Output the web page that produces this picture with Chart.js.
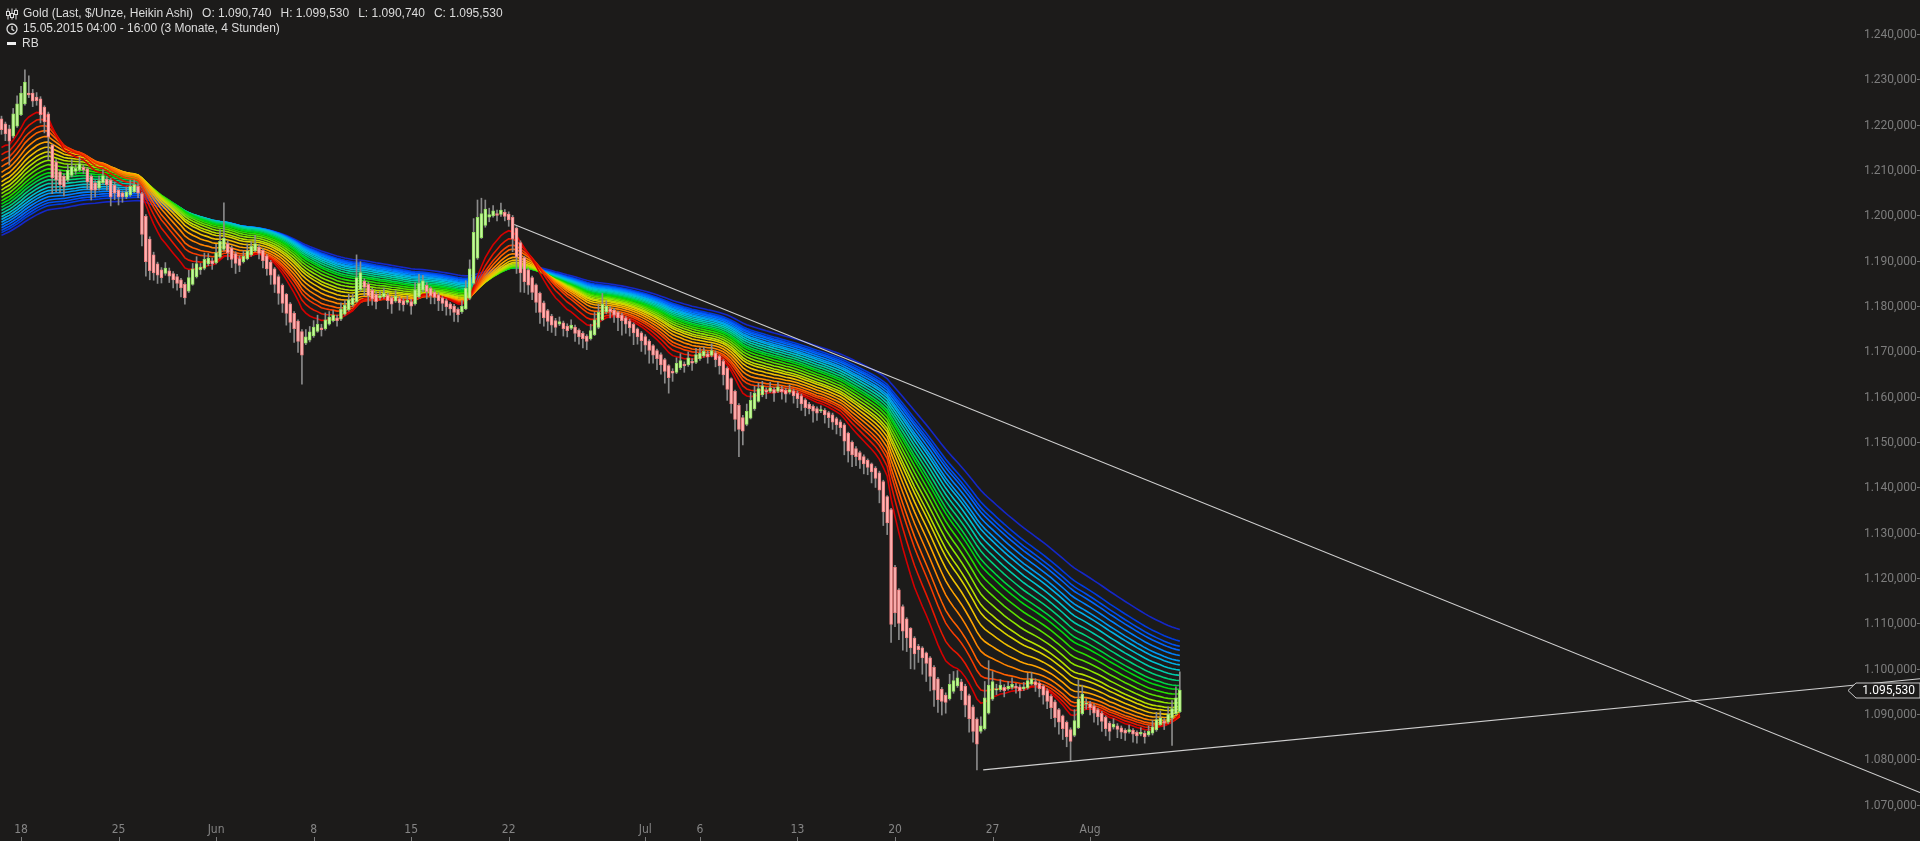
<!DOCTYPE html>
<html>
<head>
<meta charset="utf-8">
<script src="https://cdn.jsdelivr.net/npm/chart.js@4.4.0/dist/chart.umd.min.js"></script>
<style>
  html, body { margin: 0; padding: 0; background: #1c1b1a; overflow: hidden; }
  #wrap { position: relative; width: 1920px; height: 841px; }
  #info { position: absolute; left: 6px; top: 6px; font: 12px "Liberation Sans", Arial, sans-serif; color: #dcdcdc; line-height: 15px; }
  #info .row { display: flex; align-items: center; height: 15px; white-space: nowrap; }
  #info svg { margin-right: 5px; }
  #info .gap { margin-left: 9px; }
  #info .dash { display: inline-block; width: 9px; height: 3px; background: #f0f0f0; margin: 0 6px 0 1px; }
</style>
</head>
<body>
<div id="wrap">
  <canvas id="chart" width="1920" height="841"></canvas>
  <div id="info">
    <div class="row">
      <svg width="12" height="12" viewBox="0 0 12 12"><g stroke="#dcdcdc" fill="none" stroke-width="1"><path d="M2 0.5v11M6 0.5v11M10 0.5v11"/><rect x="0.5" y="3.5" width="3" height="4" fill="#1c1b1a"/><rect x="4.5" y="5.5" width="3" height="4" fill="#1c1b1a"/><rect x="8.5" y="2.5" width="3" height="4" fill="#1c1b1a"/></g></svg>
      <span>Gold (Last, $/Unze, Heikin Ashi)</span><span class="gap">O: 1.090,740</span><span class="gap">H: 1.099,530</span><span class="gap">L: 1.090,740</span><span class="gap">C: 1.095,530</span>
    </div>
    <div class="row">
      <svg width="12" height="12" viewBox="0 0 12 12"><g stroke="#dcdcdc" fill="none" stroke-width="1.3"><circle cx="6" cy="6" r="5"/><path d="M6 3v3.3l2.2 1.4"/></g></svg>
      <span>15.05.2015 04:00 - 16:00 (3 Monate, 4 Stunden)</span>
    </div>
    <div class="row"><span class="dash"></span><span>RB</span></div>
  </div>
</div>
<script>
// x axis: one step per 4h bar, bar 0 = 15.05.2015 04:00
const weekTicks = [5, 30, 55, 80, 105, 130, 165, 179, 204, 229, 254, 279];
const weekLabels = ['18', '25', 'Jun', '8', '15', '22', 'Jul', '6', '13', '20', '27', 'Aug'];
const yTicks = [1070, 1080, 1090, 1100, 1110, 1120, 1130, 1140, 1150, 1160, 1170, 1180, 1190, 1200, 1210, 1220, 1230, 1240];

// Heikin Ashi bodies (open / close), wick extensions above and below the body
const opens = [
  1221.5,1220.4,1219.3,1217.7,1219.9,1222.4,1224.8,1227.2,1227.2,1226.3,
  1225.9,1224.1,1222.6,1215.7,1212.0,1209.8,1208.8,1208.0,1209.0,1209.9,
  1210.2,1210.8,1210.5,1208.8,1207.4,1206.2,1207.4,1208.2,1208.0,1206.9,
  1205.8,1205.2,1204.3,1204.7,1205.4,1206.6,1205.0,1200.0,1195.0,1191.5,
  1189.5,1188.2,1187.4,1188.0,1187.4,1186.7,1186.0,1185.0,1183.5,1185.0,
  1186.7,1188.2,1188.5,1189.5,1190.2,1189.8,1191.0,1192.7,1194.0,1193.0,
  1191.8,1190.7,1190.0,1190.6,1191.5,1192.4,1193.2,1192.5,1191.3,1189.9,
  1188.4,1186.7,1184.8,1182.8,1180.7,1178.6,1176.9,1174.6,1172.0,1172.7,
  1173.6,1174.6,1175.4,1175.2,1176.2,1177.0,1177.6,1177.3,1178.4,1179.4,
  1180.5,1181.2,1183.8,1185.7,1185.0,1183.7,1182.8,1182.0,1182.2,1182.6,
  1182.0,1181.3,1181.8,1181.4,1181.0,1181.2,1180.7,1182.2,1183.7,1184.8,
  1184.1,1183.3,1182.7,1182.0,1181.4,1180.7,1180.2,1179.5,1178.9,1179.6,
  1181.9,1185.2,1190.8,1195.3,1198.0,1199.8,1200.1,1200.6,1200.4,1200.9,
  1200.5,1199.8,1197.4,1194.2,1190.9,1188.2,1186.5,1184.9,1183.0,1180.9,
  1179.2,1178.0,1177.0,1176.2,1176.5,1175.8,1175.3,1175.6,1174.9,1174.2,
  1173.6,1173.0,1173.9,1175.5,1177.2,1178.9,1179.6,1179.3,1178.8,1178.2,
  1177.6,1176.9,1176.2,1175.2,1174.3,1173.5,1172.5,1171.5,1170.4,1169.5,
  1168.4,1167.1,1165.8,1165.6,1166.6,1167.4,1167.2,1168.0,1167.8,1168.6,
  1169.2,1169.7,1169.3,1169.9,1169.1,1168.0,1166.5,1164.2,1161.4,1158.3,
  1155.6,1154.1,1155.5,1157.5,1159.2,1160.6,1161.6,1161.4,1161.8,1161.4,
  1161.9,1161.6,1161.2,1161.5,1161.0,1160.4,1159.5,1158.6,1158.1,1157.6,
  1157.1,1157.2,1156.7,1156.2,1155.4,1154.7,1154.0,1152.2,1150.2,1148.8,
  1147.9,1147.0,1146.2,1145.4,1144.5,1143.4,1141.5,1138.2,1135.3,1122.6,
  1117.6,1113.9,1111.2,1109.1,1107.0,1105.2,1104.8,1103.7,1102.6,1100.5,
  1098.0,1095.7,1094.4,1093.6,1095.2,1096.4,1097.3,1096.4,1094.3,1091.8,
  1089.1,1086.4,1087.0,1090.4,1093.5,1095.5,1095.6,1096.1,1095.8,1096.1,
  1096.4,1096.2,1095.8,1096.0,1096.8,1097.4,1097.0,1096.4,1095.4,1094.2,
  1092.9,1091.2,1089.8,1088.4,1086.8,1085.5,1087.2,1090.3,1092.5,1092.5,
  1092.0,1091.2,1090.4,1089.5,1088.2,1087.3,1087.6,1087.2,1086.7,1086.3,
  1086.6,1086.2,1085.8,1086.0,1085.6,1086.0,1086.7,1087.9,1088.6,1088.4,
  1089.3,1090.3,1090.74
];
const closes = [
  1219.1,1218.2,1216.6,1222.6,1224.8,1227.2,1229.6,1226.8,1225.4,1225.5,
  1222.4,1220.8,1217.5,1208.5,1208.0,1207.0,1206.5,1210.2,1211.0,1210.6,
  1211.6,1210.2,1207.6,1205.8,1205.8,1207.9,1209.0,1207.0,1204.3,1205.1,
  1204.3,1204.3,1205.4,1206.6,1207.0,1205.1,1196.0,1190.0,1188.0,1187.5,
  1187.0,1186.5,1188.6,1186.8,1186.0,1185.2,1184.2,1182.0,1186.5,1188.4,
  1189.6,1188.8,1190.5,1190.8,1189.5,1192.0,1194.5,1195.2,1192.0,1190.5,
  1189.6,1189.2,1191.2,1192.4,1193.4,1194.0,1191.8,1190.2,1188.4,1187.0,
  1185.0,1183.0,1180.8,1178.6,1176.6,1175.2,1172.4,1169.4,1173.4,1174.5,
  1175.6,1176.2,1175.0,1177.2,1177.8,1178.2,1177.0,1179.5,1180.4,1181.6,
  1182.0,1186.5,1187.6,1184.3,1182.5,1181.8,1181.2,1182.5,1183.0,1181.4,
  1180.6,1182.4,1180.9,1180.5,1181.5,1180.2,1183.8,1185.2,1185.8,1183.4,
  1182.5,1182.1,1181.4,1180.8,1180.0,1179.6,1178.8,1178.3,1180.2,1184.2,
  1188.4,1196.5,1199.8,1200.6,1201.6,1200.4,1201.2,1200.2,1201.4,1200.0,
  1199.2,1195.0,1191.0,1187.5,1185.6,1184.8,1183.2,1181.0,1178.8,1177.6,
  1176.8,1176.0,1175.5,1176.8,1175.2,1174.8,1176.0,1174.2,1173.4,1173.0,
  1172.4,1174.8,1177.2,1178.8,1180.6,1180.2,1179.0,1178.2,1177.6,1177.0,
  1176.2,1175.4,1174.3,1173.4,1172.6,1171.6,1170.4,1169.4,1168.6,1167.2,
  1165.8,1164.4,1165.4,1167.6,1168.2,1167.0,1168.8,1167.6,1169.5,1169.8,
  1170.2,1169.0,1170.4,1168.4,1167.0,1165.0,1161.8,1158.6,1155.2,1153.0,
  1152.6,1157.0,1159.4,1161.0,1162.0,1162.6,1161.2,1162.2,1161.0,1162.4,
  1161.3,1160.8,1161.8,1160.4,1159.8,1158.6,1157.8,1157.6,1157.0,1156.6,
  1157.4,1156.2,1155.6,1154.6,1154.0,1153.4,1150.4,1148.2,1147.4,1147.0,
  1146.2,1145.4,1144.6,1143.6,1142.2,1139.6,1134.8,1132.4,1110.0,1112.5,
  1110.2,1108.5,1107.0,1104.8,1103.5,1104.4,1102.6,1101.4,1098.5,1095.5,
  1093.4,1093.0,1092.8,1096.8,1097.6,1098.2,1095.4,1092.2,1089.2,1086.4,
  1083.6,1087.6,1093.8,1096.6,1097.4,1095.8,1096.6,1095.4,1096.4,1096.8,
  1096.0,1095.4,1096.2,1097.6,1098.0,1096.6,1095.8,1094.4,1093.0,1091.6,
  1089.4,1088.4,1087.0,1085.2,1084.2,1088.8,1093.5,1094.6,1092.6,1091.6,
  1090.4,1089.6,1088.6,1087.0,1086.4,1088.0,1086.8,1086.2,1086.0,1086.8,
  1085.8,1085.4,1086.2,1085.2,1086.4,1087.4,1089.0,1089.4,1088.2,1090.2,
  1091.4,1093.8,1095.53
];
const wickHi = [
  0.6,0.4,0.8,1.2,1.8,1.5,2.7,3.8,0.8,1.0, 0.5,0.3,0.4,0.2,0.5,0.3,0.6,1.2,1.5,0.8,
  1.4,0.6,0.3,0.4,0.5,1.0,1.3,0.6,0.4,0.7, 0.5,0.4,1.1,1.4,1.0,0.6,0.3,0.4,0.5,0.6,
  0.4,0.5,1.2,0.6,0.4,0.5,0.3,0.4,1.6,1.2, 1.5,0.8,1.4,1.0,0.6,1.8,2.6,7.8,0.6,0.5,
  0.4,0.6,1.2,1.5,1.0,1.8,0.5,0.4,0.3,0.4, 0.3,0.4,0.3,0.2,0.3,0.4,0.3,0.4,1.6,1.2,
  1.4,2.0,0.8,1.5,1.2,1.0,0.6,1.4,1.0,1.2, 0.8,5.0,2.4,0.6,0.5,0.4,0.6,1.0,1.2,0.5,
  0.4,1.2,0.5,0.6,1.0,0.5,1.6,2.0,1.2,0.6, 0.4,0.5,0.4,0.3,0.4,0.3,0.4,0.3,1.2,1.6,
  2.0,3.0,3.8,3.4,2.0,1.4,1.2,0.8,1.5,0.6, 0.5,0.4,0.3,0.4,0.3,0.4,0.3,0.2,0.3,0.4,
  0.3,0.4,0.5,1.0,0.4,0.5,1.2,0.4,0.3,0.4, 0.3,1.4,1.6,1.8,2.4,1.2,0.5,0.4,0.3,0.4,
  0.3,0.4,0.3,0.2,0.3,0.4,0.3,0.2,0.3,0.4, 0.3,0.2,0.6,1.2,1.5,0.5,1.3,0.6,1.4,1.2,
  1.0,0.6,1.5,0.4,0.3,0.4,0.3,0.2,0.3,0.4, 0.5,1.6,1.8,1.5,1.2,1.0,0.6,1.2,0.5,1.0,
  0.6,0.5,1.0,0.4,0.5,0.4,0.3,0.4,0.3,0.4, 0.8,0.4,0.3,0.4,0.3,0.4,0.3,0.2,0.3,0.4,
  0.3,0.4,0.3,0.2,0.3,0.4,0.3,0.2,0.3,0.4, 0.3,0.4,0.3,0.2,0.3,0.4,0.3,0.2,0.3,0.4,
  0.3,0.4,0.5,2.2,2.0,1.6,0.6,0.4,0.3,0.4, 0.3,2.0,3.6,5.4,2.2,1.0,1.2,0.6,1.0,1.4,
  0.6,0.5,1.0,1.6,1.4,0.6,0.4,0.3,0.4,0.3, 0.4,0.3,0.2,0.3,0.4,2.4,4.3,2.0,1.0,0.5,
  0.4,0.3,0.4,0.3,0.4,1.2,0.5,0.4,0.3,1.0, 0.4,0.3,1.0,0.5,1.2,1.4,1.6,1.5,0.6,1.6,
  1.8,2.4,4.0
];
const wickLo = [
  1.0,1.5,5.3,0.4,0.3,0.2,0.3,0.6,1.2,1.0, 1.8,2.4,5.0,3.5,2.6,1.8,2.0,0.4,0.3,0.6,
  0.3,0.8,1.6,2.2,1.5,0.4,0.3,1.2,2.0,1.4, 1.8,1.2,0.4,0.3,0.2,1.0,2.5,3.2,2.0,1.6,
  1.8,1.2,0.4,1.4,1.8,1.5,2.0,1.4,0.3,0.2, 0.3,1.0,0.3,0.4,1.2,0.3,0.2,0.3,1.6,1.8,
  2.2,1.4,0.3,0.2,0.3,0.2,1.2,1.6,1.4,2.0, 1.8,2.4,2.0,2.6,2.2,3.0,2.4,6.4,0.3,0.4,
  0.3,0.2,1.4,0.3,0.2,0.3,1.2,0.3,0.2,0.3, 0.4,0.2,0.3,1.8,2.2,1.4,1.6,0.4,0.3,1.8,
  2.0,0.3,1.6,1.4,0.4,1.8,0.3,0.2,0.3,1.6, 1.8,1.4,2.2,1.6,1.8,1.4,2.0,1.6,0.3,0.2,
  0.3,0.2,0.3,0.2,0.4,1.0,0.3,1.2,0.4,1.0, 1.4,2.8,3.6,4.2,2.4,2.0,1.6,2.2,2.4,1.8,
  2.0,1.6,1.8,0.3,1.6,1.4,0.3,1.8,1.6,2.0, 1.8,0.3,0.2,0.3,0.2,0.4,1.4,1.6,2.8,3.2,
  2.0,1.8,2.6,1.6,2.4,2.0,2.8,1.8,2.4,2.0, 2.6,3.4,1.8,0.3,0.4,1.4,0.3,1.6,0.3,0.4,
  0.3,1.4,0.3,1.6,1.8,2.2,2.4,2.0,2.6,6.0, 3.0,0.3,0.2,0.3,0.2,0.4,1.4,0.3,1.8,0.3,
  1.6,1.8,0.4,1.6,2.0,1.4,1.8,1.2,2.4,1.6, 0.4,1.8,2.2,1.6,2.0,1.8,3.0,2.4,2.6,2.0,
  1.8,2.2,1.6,2.4,2.0,2.8,3.0,2.6,4.0,3.0, 3.6,4.2,3.0,4.6,3.4,2.8,3.6,4.0,3.2,3.6,
  2.8,3.0,2.4,0.3,0.4,0.3,2.0,2.6,3.0,2.4, 5.7,0.4,0.3,0.2,0.3,1.0,0.4,1.4,0.3,0.4,
  1.2,1.6,0.4,0.3,0.2,1.4,1.8,2.0,1.6,2.4, 2.0,2.6,2.4,2.2,4.2,0.3,0.2,0.3,1.2,1.6,
  2.0,1.8,2.2,1.6,2.0,0.4,1.8,1.4,1.6,0.3, 1.8,1.6,0.4,1.4,0.3,0.4,0.3,0.2,1.4,0.3,
  6.0,0.3,0.2
];

// rainbow band: periods of the averages, their values at the first bar, colours
const maPeriods = [12, 16, 20, 23, 27, 31, 35, 39, 42, 46, 50, 54, 58, 61, 65, 69, 73, 77, 80, 84, 88, 91, 95, 104];
const maSeeds = [1215.2, 1213.6, 1212.2, 1210.9, 1209.7, 1208.6, 1207.6, 1206.7, 1205.8, 1205.0, 1204.2, 1203.4,
                 1202.7, 1202.0, 1201.3, 1200.6, 1199.9, 1199.3, 1198.7, 1198.1, 1197.5, 1196.9, 1196.4, 1195.8];
const maColors = ['#d40000', '#e81800', '#f53c00', '#ff6000', '#ff8400', '#ffa400', '#f0c000', '#dcd400',
                  '#b8e000', '#8ce400', '#5ce000', '#28dc00', '#00d810', '#00d444', '#00d07a', '#00ccaa',
                  '#00c4d0', '#00b0e8', '#0098f4', '#0080ff', '#0066ff', '#0050f0', '#003ce0', '#1428c8'];

// drawn trend lines (bar index, price)
const trendDown = [{ x: 131.4, y: 1198.2 }, { x: 491.7, y: 1072.9 }];
const trendUp = [{ x: 251.6, y: 1077.9 }, { x: 491.7, y: 1098.0 }];
const lastPrice = 1095.53;

const fmtDe = v => {
  const [i, d] = v.toFixed(3).split('.');
  return i.replace(/\B(?=(\d{3})+(?!\d))/g, '.') + ',' + d;
};

const bodies = closes.map((c, i) => ({ x: i, y: [opens[i], c] }));
const wicks = closes.map((c, i) => ({
  x: i,
  y: [Math.min(opens[i], c) - wickLo[i], Math.max(opens[i], c) + wickHi[i]]
}));
const upBar = closes.map((c, i) => c >= opens[i]);

const maDatasets = maPeriods.map((p, k) => {
  const a = 2 / (p + 1);
  let e = maSeeds[k];
  const pts = closes.map((c, i) => {
    if (i > 0) e += a * (c - e);
    return { x: i, y: e };
  });
  return {
    type: 'line', data: pts, borderColor: maColors[k], borderWidth: 1.6,
    pointRadius: 0, tension: 0, order: 2 + k
  };
});

const extras = {
  id: 'extras',
  afterDraw(chart) {
    const { ctx, scales: { x, y } } = chart;
    ctx.save();
    ctx.strokeStyle = '#7a7a7a';
    ctx.lineWidth = 1;
    weekTicks.forEach(t => {
      const px = Math.round(x.getPixelForValue(t)) + 0.5;
      ctx.beginPath();
      ctx.moveTo(px, chart.height - 4);
      ctx.lineTo(px, chart.height);
      ctx.stroke();
    });
    const py = Math.round(y.getPixelForValue(lastPrice)) + 0.5;
    ctx.beginPath();
    ctx.moveTo(1848, py);
    ctx.lineTo(1856, py - 7.5);
    ctx.lineTo(1920, py - 7.5);
    ctx.lineTo(1920, py + 7.5);
    ctx.lineTo(1856, py + 7.5);
    ctx.closePath();
    ctx.fillStyle = '#1c1b1a';
    ctx.fill();
    ctx.strokeStyle = '#c8c8c8';
    ctx.stroke();
    ctx.fillStyle = '#ffffff';
    ctx.font = '12px Roboto';
    ctx.textAlign = 'right';
    ctx.textBaseline = 'middle';
    ctx.fillText(fmtDe(lastPrice), 1915, py + 0.5);
    ctx.restore();
  }
};

new Chart(document.getElementById('chart'), {
  type: 'bar',
  data: {
    datasets: [
      { type: 'line', data: trendDown, borderColor: '#cfcfcf', borderWidth: 1.2, pointRadius: 0, order: -2 },
      { type: 'line', data: trendUp, borderColor: '#cfcfcf', borderWidth: 1.2, pointRadius: 0, order: -1 },
      {
        data: bodies, grouped: false, barThickness: 3, borderWidth: 1, borderSkipped: false,
        backgroundColor: upBar.map(u => u ? '#c6f59e' : '#ffb4b4'),
        borderColor: upBar.map(u => u ? '#8fdf5c' : '#f08080'),
        order: 0
      },
      { data: wicks, grouped: false, barThickness: 1, backgroundColor: '#8a8a8a', order: 1 },
      ...maDatasets
    ]
  },
  options: {
    responsive: false,
    devicePixelRatio: 1,
    animation: false,
    events: [],
    plugins: { legend: { display: false }, tooltip: { enabled: false } },
    layout: { padding: 0 },
    scales: {
      x: {
        type: 'linear', min: -0.382, max: 491.7, offset: false,
        grid: { display: false, drawTicks: false, offset: false },
        border: { display: false },
        afterBuildTicks: s => { s.ticks = weekTicks.map(v => ({ value: v })); },
        afterFit: s => { s.height = 25; },
        ticks: {
          autoSkip: false, maxRotation: 0, padding: 7, color: '#858585',
          font: { family: '"Liberation Sans Narrow", "DejaVu Sans Condensed", sans-serif', size: 12 },
          callback: (v, i) => weekLabels[i]
        }
      },
      y: {
        position: 'right', min: 1067.73, max: 1247.72,
        grid: { display: false, drawTicks: false },
        border: { display: false },
        afterBuildTicks: s => { s.ticks = yTicks.map(v => ({ value: v })); },
        afterFit: s => { s.width = 0; s.paddingTop = 0; s.paddingBottom = 0; },
        ticks: {
          mirror: true, padding: 0, color: '#7d7d7d',
          font: { family: 'Roboto', size: 12 },
          callback: v => fmtDe(v) + '-'
        }
      }
    }
  },
  plugins: [extras]
});
</script>
</body>
</html>
